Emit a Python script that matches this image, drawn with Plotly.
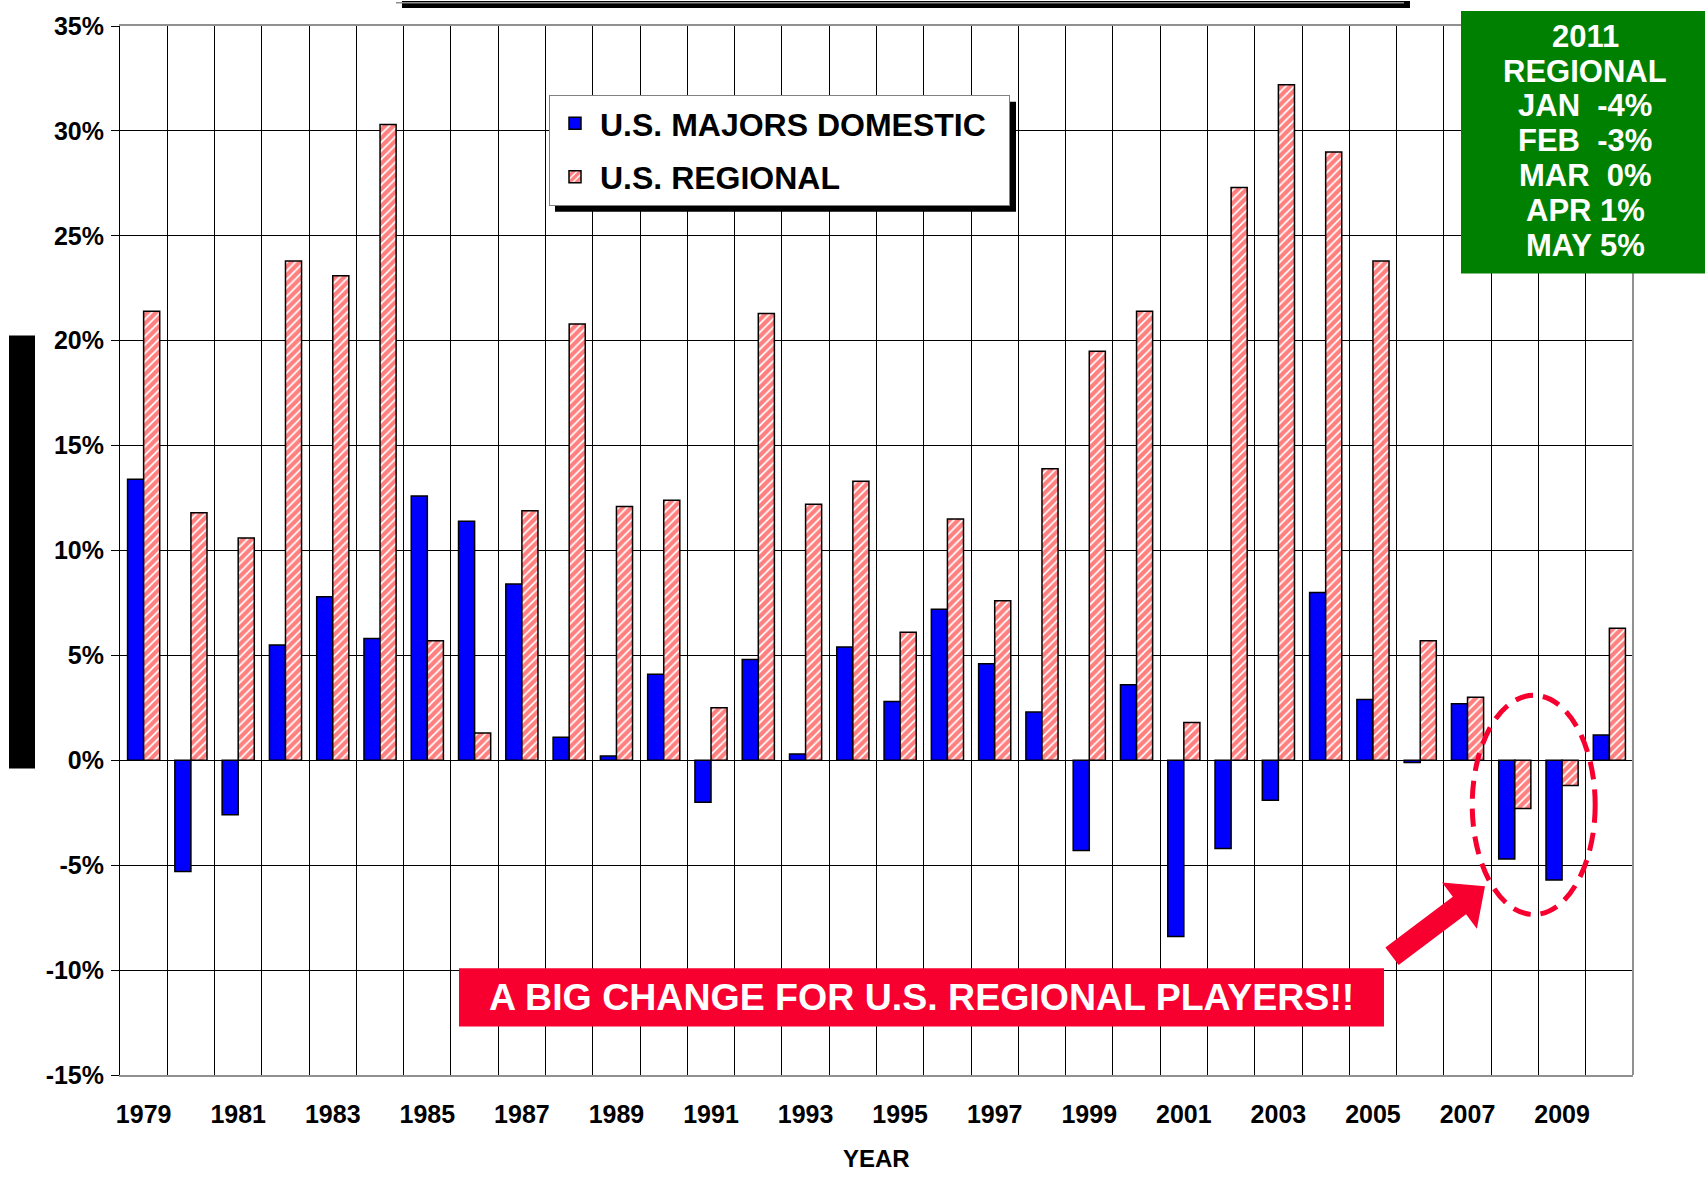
import plotly.graph_objects as go

# ---- data: annual traffic growth (%), 1979-2010 ----
years = list(range(1979, 2011))
majors_domestic = [13.4, -5.3, -2.6, 5.5, 7.8, 5.8, 12.6, 11.4, 8.4, 1.1,
                   0.2, 4.1, -2.0, 4.8, 0.3, 5.4, 2.8, 7.2, 4.6, 2.3,
                   -4.3, 3.6, -8.4, -4.2, -1.9, 8.0, 2.9, -0.1, 2.7, -4.7,
                   -5.7, 1.2]
regional = [21.4, 11.8, 10.6, 23.8, 23.1, 30.3, 5.7, 1.3, 11.9, 20.8,
            12.1, 12.4, 2.5, 21.3, 12.2, 13.3, 6.1, 11.5, 7.6, 13.9,
            19.5, 21.4, 1.8, 27.3, 32.2, 29.0, 23.8, 5.7, 3.0, -2.3,
            -1.2, 6.3]
label_years = [y for y in years if y % 2 == 1]
y_ticks = list(range(-15, 40, 5))

box_lines = ["2011", "REGIONAL", "JAN\u00a0\u00a0-4%", "FEB\u00a0\u00a0-3%",
             "MAR\u00a0\u00a00%", "APR 1%", "MAY 5%"]
banner_text = "A BIG CHANGE FOR U.S. REGIONAL PLAYERS!!"

# ---- page geometry (pixels) ----
W, H = 1705, 1178
PL, PR, PT, PB = 120, 1633, 24, 1075
FONT = "Arial, 'Liberation Sans', sans-serif"
RED = "#F70030"


def px(x):
    return (x - PL) / (PR - PL)


def py(y):
    return (PB - y) / (PB - PT)


fig = go.Figure()
fig.add_trace(go.Bar(
    x=years, y=majors_domestic, name="U.S. MAJORS DOMESTIC\u00a0\u00a0",
    legendgroup="a",
    marker=dict(color="#0000FF", line=dict(color="black", width=1.5)),
))
fig.add_trace(go.Bar(
    x=years, y=regional, name="U.S. REGIONAL",
    legendgroup="b",
    marker=dict(color="white", line=dict(color="black", width=1.5),
                pattern=dict(shape="/", fgcolor="#FF0000", bgcolor="white",
                             size=6, solidity=0.7)),
))

shapes = []
# title box edge with drop shadow at the top of the page
shapes.append(dict(type="rect", xref="paper", yref="paper",
                   x0=px(402), x1=px(1410), y0=py(6), y1=py(-1),
                   fillcolor="black", line=dict(width=0), layer="above"))
shapes.append(dict(type="line", xref="paper", yref="paper",
                   x0=px(396), x1=px(1404), y0=py(0.8), y1=py(0.8),
                   line=dict(color="#909090", width=1.5), layer="above"))
# vertical bar at the left edge
shapes.append(dict(type="rect", xref="paper", yref="paper",
                   x0=px(9), x1=px(35), y0=py(768), y1=py(334),
                   fillcolor="black", line=dict(width=0), layer="above"))
# right border of the plot area
shapes.append(dict(type="line", xref="paper", yref="paper",
                   x0=1, x1=1, y0=0, y1=1,
                   line=dict(color="#909090", width=2), layer="above"))
# legend drop shadow
shapes.append(dict(type="rect", xref="paper", yref="paper",
                   x0=px(555), x1=px(1016), y0=py(210), y1=py(100),
                   fillcolor="black", line=dict(width=0), layer="above"))
# green 2011 box
shapes.append(dict(type="rect", xref="paper", yref="paper",
                   x0=px(1461), x1=px(1710), y0=py(272), y1=py(9),
                   fillcolor="#008000", line=dict(width=0), layer="above"))
# red banner
shapes.append(dict(type="rect", xref="paper", yref="paper",
                   x0=px(459), x1=px(1384), y0=py(1026.5), y1=py(968),
                   fillcolor=RED, line=dict(width=0), layer="above"))
# dashed ellipse around 2008-2009
shapes.append(dict(type="circle", xref="x", yref="y",
                   x0=2007.1, x1=2009.7, y0=-7.35, y1=3.1,
                   line=dict(color=RED, width=5, dash="18px,10px"),
                   layer="above"))

# thick arrow pointing at the ellipse
tip = (1485.0, 886.0)
tail = (1392.0, 956.0)
head_len, head_half, shaft_half = 32.0, 29.0, 11.0
dx, dy = tip[0] - tail[0], tip[1] - tail[1]
ln = (dx * dx + dy * dy) ** 0.5
ux, uy = dx / ln, dy / ln
nx, ny = -uy, ux
bx, by = tip[0] - ux * head_len, tip[1] - uy * head_len
pts = [
    (tail[0] + nx * shaft_half, tail[1] + ny * shaft_half),
    (bx + nx * shaft_half, by + ny * shaft_half),
    (bx + nx * head_half, by + ny * head_half),
    tip,
    (bx - nx * head_half, by - ny * head_half),
    (bx - nx * shaft_half, by - ny * shaft_half),
    (tail[0] - nx * shaft_half, tail[1] - ny * shaft_half),
]
path = "M " + " L ".join(f"{px(a):.5f},{py(b):.5f}" for a, b in pts) + " Z"
shapes.append(dict(type="path", xref="paper", yref="paper", path=path,
                   fillcolor=RED, line=dict(width=0), layer="above"))

annotations = []
box_y = [35, 70, 104, 139, 174, 209, 244]
for txt, yy in zip(box_lines, box_y):
    annotations.append(dict(
        xref="paper", yref="paper", x=px(1585), y=py(yy),
        xanchor="center", yanchor="middle", showarrow=False, text=txt,
        font=dict(family=FONT, size=31, color="white", weight="bold")))
annotations.append(dict(
    xref="paper", yref="paper", x=px(921), y=py(997),
    xanchor="center", yanchor="middle", showarrow=False, text=banner_text,
    font=dict(family=FONT, size=37.5, color="white", weight="bold")))
annotations.append(dict(
    xref="paper", yref="paper", x=px(876), y=py(1159),
    xanchor="center", yanchor="middle", showarrow=False, text="YEAR",
    font=dict(family=FONT, size=24, color="black", weight="bold")))

fig.update_layout(
    width=W, height=H,
    margin=dict(l=PL, r=W - PR, t=PT, b=H - PB, pad=0),
    paper_bgcolor="white", plot_bgcolor="white",
    barmode="group", bargap=0.32, bargroupgap=0,
    font=dict(family=FONT, color="black"),
    shapes=shapes, annotations=annotations,
    legend=dict(x=px(549), y=py(93), xanchor="left", yanchor="top",
                bgcolor="white", bordercolor="#808080", borderwidth=1,
                font=dict(family=FONT, size=32, color="black", weight="bold"),
                tracegroupgap=9, itemwidth=40),
    xaxis=dict(
        range=[1978.5, 2010.5], tickmode="array",
        tickvals=label_years, ticktext=[str(y) for y in label_years],
        tickfont=dict(family=FONT, size=25, color="black", weight="bold"),
        ticks="", showgrid=False, zeroline=False,
        showline=True, linecolor="#909090", linewidth=2, mirror=True,
        ticklabelstandoff=16,
        minor=dict(tickmode="linear", tick0=1978.5, dtick=1, showgrid=True,
                   gridcolor="black", gridwidth=1, ticks=""),
    ),
    yaxis=dict(
        range=[-15, 35], tickmode="array", tickvals=y_ticks,
        ticktext=[f"{v}%" for v in y_ticks],
        tickfont=dict(family=FONT, size=25, color="black", weight="bold"),
        ticks="outside", ticklen=8, tickcolor="black", tickwidth=1,
        showgrid=True, gridcolor="black", gridwidth=1,
        zeroline=True, zerolinecolor="black", zerolinewidth=1,
        showline=True, linecolor="black", linewidth=1,
        ticklabelstandoff=2,
    ),
)

fig.write_html("out.html")
